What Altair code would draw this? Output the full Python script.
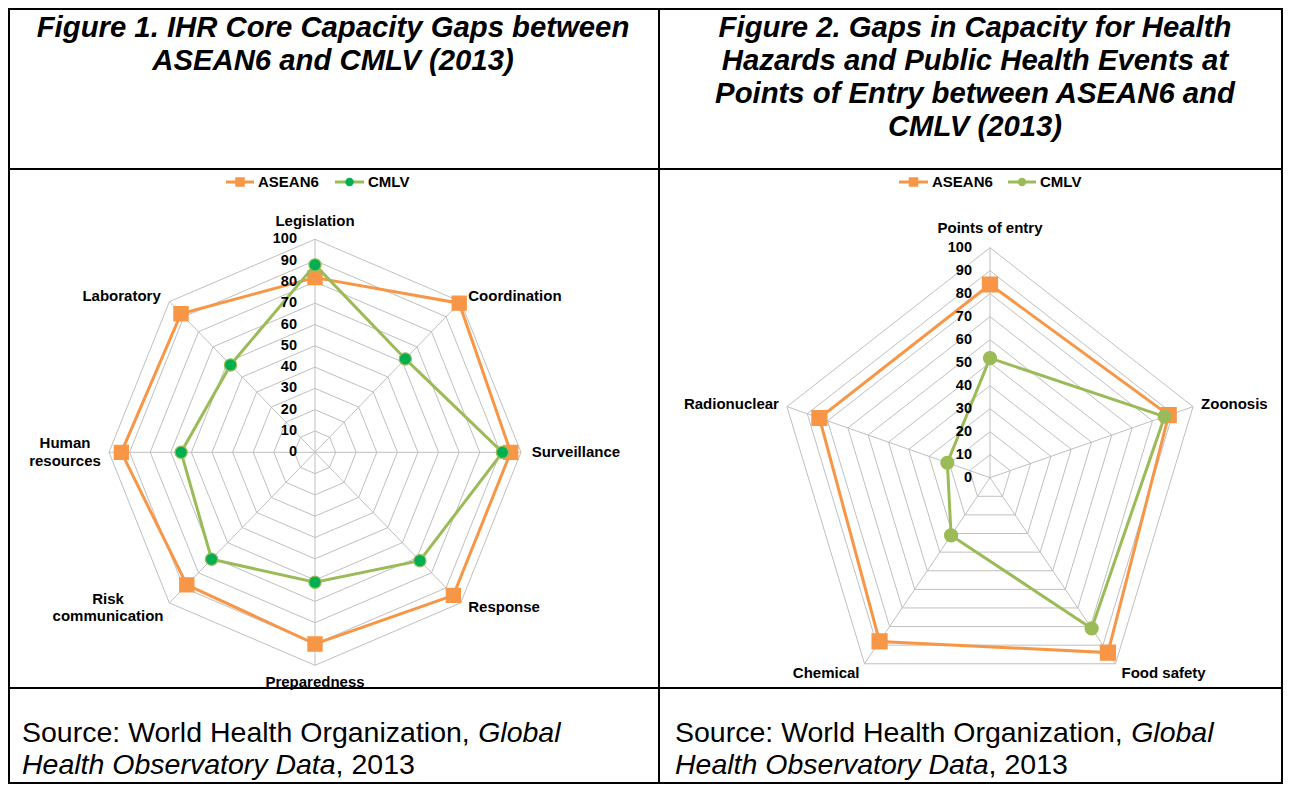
import altair as alt
import pandas as pd

# ---------------- data ----------------
fig1_categories = ["Legislation", "Coordination", "Surveillance", "Response",
                   "Preparedness", "Risk communication", "Human resources", "Laboratory"]
fig1_asean6 = [82, 99, 95, 95, 90, 88, 94, 92]
fig1_cmlv = [88, 62, 91, 72, 61, 71, 65, 58]

fig2_categories = ["Points of entry", "Zoonosis", "Food safety", "Chemical", "Radionuclear"]
fig2_asean6 = [84, 88, 94, 88, 84]
fig2_cmlv = [52, 86, 81, 31, 21]

series_names = ["ASEAN6", "CMLV"]
grid_levels = [10, 20, 30, 40, 50, 60, 70, 80, 90, 100]
tick_levels = [0, 10, 20, 30, 40, 50, 60, 70, 80, 90, 100]

fig1_title = ["Figure 1. IHR Core Capacity Gaps between", "ASEAN6 and CMLV (2013)"]
fig2_title = ["Figure 2. Gaps in Capacity for Health", "Hazards and Public Health Events at",
              "Points of Entry between ASEAN6 and", "CMLV (2013)"]
source_a = "Source: World Health Organization, "
source_b = "Global"
source_c = "Health Observatory Data"
source_d = ", 2013"

# ---------------- layout / style ----------------
W, H = 1275, 776
FONT = "Liberation Sans"
ORANGE = "#F79646"
GREEN = "#9BBB59"
DKGREEN = "#00B050"
GRID = "#BFBFBF"
INK = "#000000"
SRC_SIZE = 28.5


def fsx():
    return alt.Scale(domain=[0, W], nice=False, zero=False)


def fsy():
    return alt.Scale(domain=[0, H], reverse=True, nice=False, zero=False)


layers = []

# table frame lines (x1, x2, y) and (x, y1, y2)
h_lines = pd.DataFrame({"x1": [0, 0, 0, 0], "x2": [W, W, W, W], "y": [1, 161, 680, 775]})
v_lines = pd.DataFrame({"x": [1, 651, 1274], "y1": [0, 0, 0], "y2": [H, H, H]})
layers.append(alt.Chart(h_lines).mark_rule(color=INK, strokeWidth=2).encode(
    x=alt.X("x1:Q", scale=fsx(), axis=None), x2="x2:Q",
    y=alt.Y("y:Q", scale=fsy(), axis=None)))
layers.append(alt.Chart(v_lines).mark_rule(color=INK, strokeWidth=2).encode(
    x=alt.X("x:Q", scale=fsx(), axis=None),
    y=alt.Y("y1:Q", scale=fsy(), axis=None), y2="y2:Q"))


def title_layer(lines, cx):
    df = pd.DataFrame({"text": lines, "line": list(range(len(lines)))})
    return alt.Chart(df).transform_calculate(
        ty="28.5 + 33.2*datum.line"
    ).mark_text(font=FONT, fontSize=29.3, fontWeight="bold", fontStyle="italic",
                align="center", baseline="alphabetic", color=INK).encode(
        x=alt.XDatum(cx, scale=fsx(), axis=None),
        y=alt.Y("ty:Q", scale=fsy(), axis=None),
        text="text:N")


layers.append(title_layer(fig1_title, 325))
layers.append(title_layer(fig2_title, 967))


def source_layers(x0):
    out = []
    w_a = 16.006 * SRC_SIZE   # advance width of source_a (Arial metrics)
    w_c = 11.004 * SRC_SIZE   # advance width of source_c
    parts = [(source_a, 0, 733.5, "normal"), (source_b, w_a, 733.5, "italic"),
             (source_c, 0, 766, "italic"), (source_d, w_c, 766, "normal")]
    for txt, off, yy, style in parts:
        out.append(alt.Chart(pd.DataFrame({"text": [txt]})).mark_text(
            font=FONT, fontSize=SRC_SIZE, fontStyle=style, align="left",
            baseline="alphabetic", color=INK).encode(
            x=alt.XDatum(x0 + off, scale=fsx(), axis=None),
            y=alt.YDatum(yy, scale=fsy(), axis=None),
            text="text:N"))
    return out


layers += source_layers(14)
layers += source_layers(667)


def legend_layers(entries, cmlv_fill):
    out = []
    styles = {"ASEAN6": (ORANGE, ORANGE, "square", 90), "CMLV": (GREEN, cmlv_fill, "circle", 70)}
    for name, (x1, x2) in zip(series_names, entries):
        line_c, fill_c, shape, size = styles[name]
        df = pd.DataFrame({"series": [name]})
        out.append(alt.Chart(df).mark_rule(color=line_c, strokeWidth=3).encode(
            x=alt.XDatum(x1, scale=fsx(), axis=None), x2=alt.X2Datum(x2),
            y=alt.YDatum(174, scale=fsy(), axis=None)))
        out.append(alt.Chart(df).mark_point(shape=shape, filled=True, fill=fill_c,
                                            color=fill_c, size=size, opacity=1).encode(
            x=alt.XDatum((x1 + x2) / 2, scale=fsx(), axis=None),
            y=alt.YDatum(174, scale=fsy(), axis=None)))
        out.append(alt.Chart(df).mark_text(font=FONT, fontSize=15, fontWeight="bold",
                                           align="left", baseline="middle", color=INK).encode(
            x=alt.XDatum(x2 + 4, scale=fsx(), axis=None),
            y=alt.YDatum(174, scale=fsy(), axis=None),
            text="series:N"))
    return out


layers += legend_layers([(218, 246), (327, 356)], DKGREEN)
layers += legend_layers([(891, 920), (1000, 1028)], GREEN)


def radar_layers(categories, asean, cmlv, cx, cy, rh, rv, cmlv_fill,
                 sq_size, ci_size, label_layout):
    n = len(categories)
    kx, ky = rh / 100.0, rv / 100.0
    sx = alt.Scale(domain=[-cx / kx, (W - cx) / kx], nice=False, zero=False)
    sy = alt.Scale(domain=[-(H - cy) / ky, cy / ky], nice=False, zero=False)

    def X(f):
        return alt.X(f, type="quantitative", scale=sx, axis=None)

    def Y(f):
        return alt.Y(f, type="quantitative", scale=sy, axis=None)

    polar = dict(ang=f"2*PI*datum.idx/{n}",
                 x="datum.value*sin(datum.ang)",
                 y="datum.value*cos(datum.ang)")
    out = []

    grid_df = pd.DataFrame([{"level": L, "idx": i, "value": L}
                            for L in grid_levels for i in range(n + 1)])
    out.append(alt.Chart(grid_df).transform_calculate(**polar).mark_line(
        color=GRID, strokeWidth=1).encode(x=X("x"), y=Y("y"),
                                          detail="level:N", order="idx:Q"))
    spoke_df = pd.DataFrame({"idx": list(range(n)), "value": [grid_levels[-1]] * n})
    out.append(alt.Chart(spoke_df).transform_calculate(**polar).mark_rule(
        color=GRID, strokeWidth=1).encode(x=X("x"), y=Y("y"),
                                          x2=alt.X2Datum(0), y2=alt.Y2Datum(0)))

    styles = [("ASEAN6", asean, ORANGE, ORANGE, ORANGE, "square", sq_size),
              ("CMLV", cmlv, GREEN, cmlv_fill, GREEN, "circle", ci_size)]
    for name, vals, line_c, fill_c, stroke_c, shape, size in styles:
        df = pd.DataFrame({"series": name, "idx": list(range(n + 1)),
                           "category": [categories[i % n] for i in range(n + 1)],
                           "value": [vals[i % n] for i in range(n + 1)]})
        out.append(alt.Chart(df).transform_calculate(**polar).mark_line(
            color=line_c, strokeWidth=3).encode(x=X("x"), y=Y("y"), order="idx:Q"))
        out.append(alt.Chart(df).transform_filter(f"datum.idx < {n}").transform_calculate(
            **polar).mark_point(shape=shape, filled=True, fill=fill_c, stroke=stroke_c,
                                strokeWidth=1.2, size=size, opacity=1).encode(
            x=X("x"), y=Y("y")))

    tick_df = pd.DataFrame({"level": tick_levels})
    out.append(alt.Chart(tick_df).mark_text(
        font=FONT, fontSize=14.5, fontWeight="bold", align="right", baseline="middle",
        dx=-18, color=INK).encode(
        x=alt.XDatum(0, scale=sx, axis=None), y=Y("level"), text="level:Q"))

    lab_df = pd.DataFrame({"idx": list(range(n)), "category": categories,
                           "value": [grid_levels[-1]] * n})
    for i, cat in enumerate(categories):
        align, dx, dy, wrap = label_layout[cat]
        kw = dict(font=FONT, fontSize=15, fontWeight="bold", align=align,
                  baseline="middle", dx=dx, dy=dy, color=INK, lineHeight=17.5)
        if wrap:
            kw["lineBreak"] = " "
        out.append(alt.Chart(lab_df).transform_filter(f"datum.idx == {i}").transform_calculate(
            **polar).mark_text(**kw).encode(x=X("x"), y=Y("y"), text="category:N"))
    return out


fig1_labels = {
    "Legislation": ("center", 0, -18.3, False),
    "Coordination": ("left", 7.6, -6, False),
    "Surveillance": ("left", 10.7, -0.6, False),
    "Response": ("left", 7.6, 4.4, False),
    "Preparedness": ("center", 0, 16.4, False),
    "Risk communication": ("center", -61.3, -4, True),
    "Human resources": ("center", -44, -9, True),
    "Laboratory": ("right", -8.6, -6, False),
}
fig2_labels = {
    "Points of entry": ("center", 0, -19.4, False),
    "Zoonosis": ("left", 8, -2.6, False),
    "Food safety": ("left", 6, 9.5, False),
    "Chemical": ("right", -5, 9.5, False),
    "Radionuclear": ("right", -8, -2.6, False),
}

layers += radar_layers(fig1_categories, fig1_asean6, fig1_cmlv, 307, 444.3, 206, 213,
                       DKGREEN, 200, 150, fig1_labels)
layers += radar_layers(fig2_categories, fig2_asean6, fig2_cmlv, 982, 469.7, 213.5, 230,
                       GREEN, 225, 170, fig2_labels)

chart = alt.layer(*layers).resolve_scale(x="independent", y="independent").properties(
    width=W, height=H, padding=0,
    autosize=alt.AutoSizeParams(type="none"),
    background="white",
).configure_view(stroke=None)

chart.save("out.html", embed_options={"renderer": "svg", "actions": False})
